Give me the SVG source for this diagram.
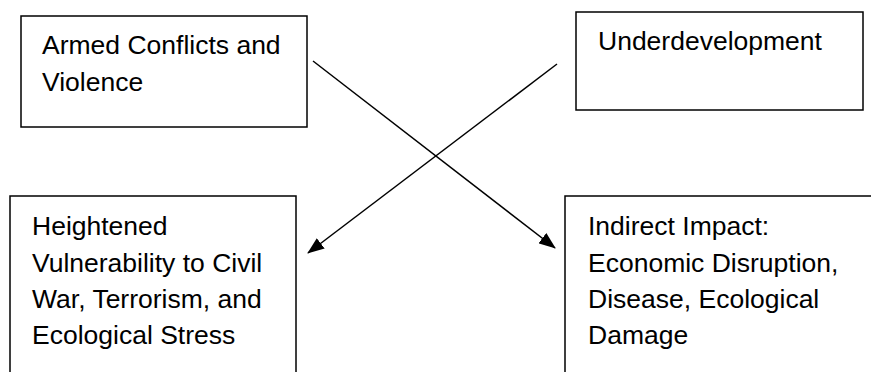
<svg xmlns="http://www.w3.org/2000/svg" width="871" height="372" viewBox="0 0 871 372">
<style>
  .box { fill: #ffffff; stroke: #000000; stroke-width: 1.5; }
  .lbl { font-family: "Liberation Sans", Arial, sans-serif; font-size: 26.5px; fill: #000000; }
</style>
<defs>
  <marker id="arrowBig" viewBox="0 0 17 13" refX="16" refY="6.5" markerWidth="17" markerHeight="13" markerUnits="userSpaceOnUse" orient="auto">
    <path d="M0,0 L17,6.5 L0,13 z" fill="#000000"/>
  </marker>
</defs>
<rect width="871" height="372" fill="#ffffff"/>
<g id="node-armed">
  <rect class="box" x="21" y="16" width="286" height="111"/>
  <text class="lbl" x="42" y="54">Armed Conflicts and</text>
  <text class="lbl" x="42" y="91">Violence</text>
</g>
<g id="node-underdevelopment">
  <rect class="box" x="576" y="12" width="287" height="98"/>
  <text class="lbl" x="598" y="50">Underdevelopment</text>
</g>
<g id="node-vulnerability">
  <rect class="box" x="10" y="196" width="286" height="190"/>
  <text class="lbl" x="32" y="235">Heightened</text>
  <text class="lbl" x="32" y="272">Vulnerability to Civil</text>
  <text class="lbl" x="32" y="308">War, Terrorism, and</text>
  <text class="lbl" x="32" y="344">Ecological Stress</text>
</g>
<g id="node-indirect">
  <rect class="box" x="565" y="196" width="320" height="190"/>
  <text class="lbl" x="588" y="235">Indirect Impact:</text>
  <text class="lbl" x="588" y="272">Economic Disruption,</text>
  <text class="lbl" x="588" y="308">Disease, Ecological</text>
  <text class="lbl" x="588" y="344">Damage</text>
</g>
<g id="connectors">
  <line x1="313" y1="61" x2="555" y2="248" stroke="#000" stroke-width="1.5" marker-end="url(#arrowBig)"/>
  <line x1="557" y1="64" x2="308" y2="253" stroke="#000" stroke-width="1.5" marker-end="url(#arrowBig)"/>
</g>
</svg>
